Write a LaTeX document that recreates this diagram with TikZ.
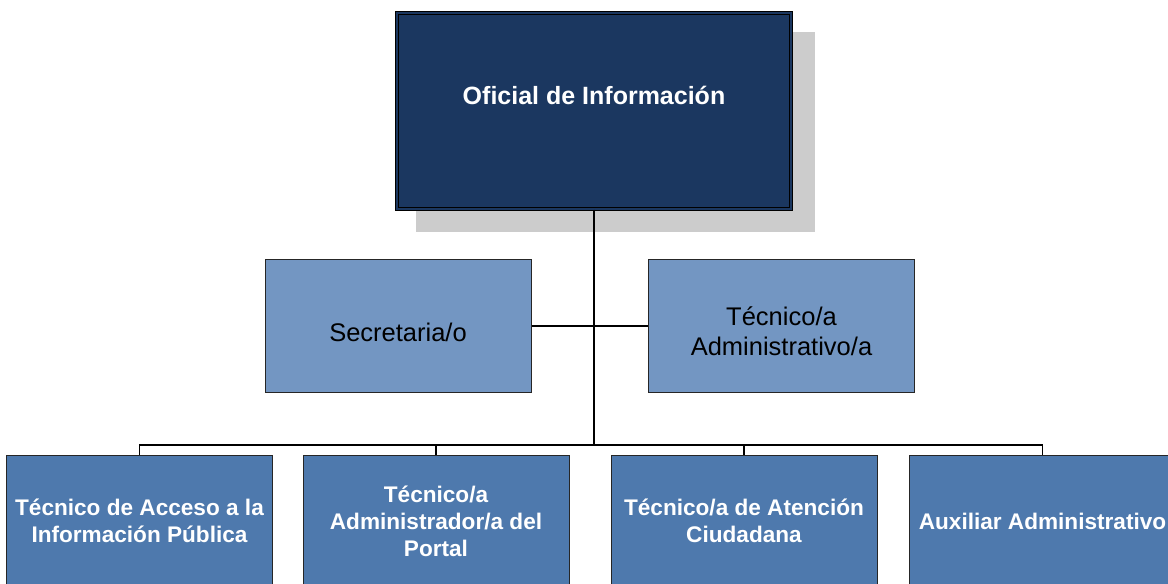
\documentclass[tikz,border=0pt]{standalone}
\usepackage{fontspec}
\setmainfont{Liberation Sans}
\usetikzlibrary{calc}
\definecolor{navybox}{HTML}{1B3760}
\definecolor{midbox}{HTML}{7396C2}
\definecolor{lowbox}{HTML}{4E79AD}
\definecolor{shadowgray}{HTML}{CCCCCC}
\tikzset{
  topbox/.style={rectangle, fill=navybox, draw=black, line width=1.1bp, double=navybox, double distance=2.6bp, minimum width=394bp, minimum height=196bp, inner sep=0pt},
  midstyle/.style={rectangle, fill=midbox, draw=black!85, line width=1bp, minimum width=266bp, minimum height=132bp, inner sep=0pt},
  midtext/.style={align=center, text=black, inner sep=0pt, font=\fontsize{25.5bp}{30bp}\selectfont},
  lowstyle/.style={rectangle, fill=lowbox, draw=black!85, line width=1bp, minimum width=266bp, minimum height=136bp, inner sep=0pt},
  lowtext/.style={align=center, text=white, inner sep=0pt, font=\bfseries\fontsize{22.6bp}{27bp}\selectfont},
  toplabel/.style={text=white, font=\bfseries\fontsize{25bp}{29bp}\selectfont, inner sep=0pt},
  conn/.style={draw=black, line width=1.8bp},
  busline/.style={draw=black, line width=1.4bp}
}
\begin{document}
\begin{tikzpicture}[x=1bp, y=-1bp]
\useasboundingbox (0,0) rectangle (1168,584);
% shadow
\fill[shadowgray] (416,32) rectangle (815,232);
% top box
\node[topbox] (top) at (594,111) {};
\node[toplabel] (toptext) at (594,95) {Oficial de Información};
% middle boxes
\node[midstyle] (sec) at (398,326) {};
\node[midtext] (sectext) at (398,332) {Secretaria/o};
\node[midstyle] (tec) at (781.5,326) {};
\node[midtext] (tectext) at (781.5,331) {Técnico/a\\Administrativo/a};
% bottom boxes
\node[lowstyle] (b1) at (139.5,523) {};
\node[lowtext] (b1text) at (139.5,521) {Técnico de Acceso a la\\Información Pública};
\node[lowstyle] (b2) at (436,523) {};
\node[lowtext] (b2text) at (436,521) {Técnico/a\\Administrador/a del\\Portal};
\node[lowstyle] (b3) at (744,523) {};
\node[lowtext] (b3text) at (744,521) {Técnico/a de Atención\\Ciudadana};
\node[lowstyle] (b4) at (1042.5,523) {};
\node[lowtext] (b4text) at (1042.5,521) {Auxiliar Administrativo};
% connectors
\coordinate (bus) at (594,445);
\draw[conn] (top.south) -- (bus);
\draw[conn] (sec.east) -- (tec.west);
\draw[busline] (b1.north) -- (b1.north |- bus) -- (b4.north |- bus) -- (b4.north);
\draw[busline] (b2.north) -- (b2.north |- bus);
\draw[busline] (b3.north) -- (b3.north |- bus);
\end{tikzpicture}
\end{document}
